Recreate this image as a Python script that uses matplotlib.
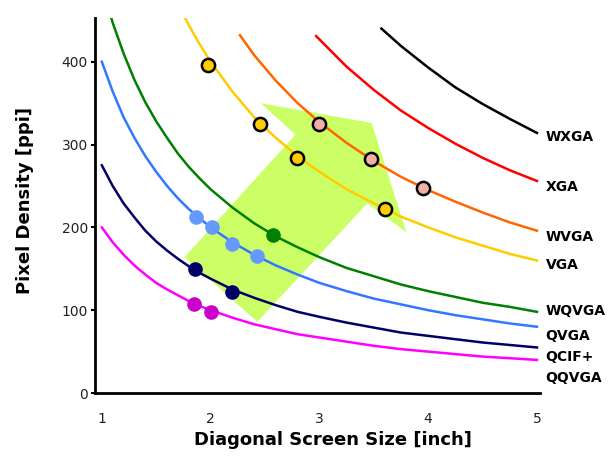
import matplotlib
matplotlib.use("Agg")
import matplotlib.pyplot as plt

sizes = [1.0, 1.1, 1.2, 1.3, 1.4, 1.5, 1.6, 1.7, 1.8, 1.9, 2.0, 2.2, 2.4, 2.6, 2.8,
         3.0, 3.25, 3.5, 3.75, 4.0, 4.25, 4.5, 4.75, 5.0]

wxga_x = [3.57, 3.75, 4.0, 4.25, 4.5, 4.75, 5.0]
wxga_y = [440, 419, 393, 369, 349, 331, 314]

xga_x = [2.97, 3.0, 3.25, 3.5, 3.75, 4.0, 4.25, 4.5, 4.75, 5.0]
xga_y = [431, 427, 394, 366, 341, 320, 301, 284, 269, 256]

wvga_x = [2.27, 2.4, 2.6, 2.8, 3.0, 3.25, 3.5, 3.75, 4.0, 4.25, 4.5, 4.75, 5.0]
wvga_y = [432, 408, 377, 350, 327, 302, 280, 261, 245, 231, 218, 206, 196]

vga_x = [1.75, 1.8, 1.9, 2.0, 2.2, 2.4, 2.6, 2.8, 3.0, 3.25, 3.5, 3.75, 4.0,
         4.25, 4.5, 4.75, 5.0]
vga_y = [457, 444, 421, 400, 364, 333, 308, 286, 267, 246, 229, 213, 200,
         188, 178, 168, 160]

wqvga_y = [492, 447, 410, 378, 351, 328, 308, 289, 273, 259, 246, 224, 205, 189, 176,
           164, 151, 141, 131, 123, 116, 109, 104, 98]
qvga_y = [400, 364, 333, 308, 286, 267, 250, 235, 222, 211, 200, 182, 167, 154, 143,
          133, 123, 114, 107, 100, 94, 89, 84, 80]
qcif_y = [275, 250, 229, 212, 196, 183, 172, 162, 153, 145, 138, 125, 115, 106, 98,
          92, 85, 79, 73, 69, 65, 61, 58, 55]
qqvga_y = [200, 182, 167, 154, 143, 133, 125, 118, 111, 105, 100, 91, 83, 77, 71,
           67, 62, 57, 53, 50, 47, 44, 42, 40]

# highlighted devices
vga_pts_x = [1.98, 2.45, 2.79, 3.60]
vga_pts_y = [396, 325, 284, 222]
wvga_pts_x = [3.0, 3.47, 3.95]
wvga_pts_y = [325, 283, 248]
wqvga_pts_x = [2.57]
wqvga_pts_y = [191]
qvga_pts_x = [1.87, 2.01, 2.20, 2.43]
qvga_pts_y = [213, 200, 180, 165]
qcif_pts_x = [1.86, 2.20]
qcif_pts_y = [150, 122]
qqvga_pts_x = [1.85, 2.0]
qqvga_pts_y = [107, 98]

# trend arrow outline
arrow_x = [2.46, 3.48, 3.80, 3.44, 2.43, 1.76, 2.78]
arrow_y = [350, 326, 194, 229, 86, 164, 312]

label_names = ["WXGA", "XGA", "WVGA", "VGA", "WQVGA", "QVGA", "QCIF+", "QQVGA"]
label_y = [309, 249, 188, 155, 99, 69, 44, 18]

fig = plt.figure(figsize=(6.16, 4.57), dpi=100)
ax = fig.add_axes([0.154, 0.140, 0.723, 0.821])

ax.fill(arrow_x, arrow_y, color="#ccff66", zorder=1, lw=0)

lw = 1.8
ax.plot(wxga_x, wxga_y, color="black", lw=lw, zorder=2)
ax.plot(xga_x, xga_y, color="#ff0000", lw=lw, zorder=2)
ax.plot(wvga_x, wvga_y, color="#ff6600", lw=lw, zorder=2)
ax.plot(vga_x, vga_y, color="#ffcc00", lw=lw, zorder=2)
ax.plot(sizes, wqvga_y, color="#008000", lw=lw, zorder=2)
ax.plot(sizes, qvga_y, color="#3377ff", lw=lw, zorder=2)
ax.plot(sizes, qcif_y, color="#000066", lw=lw, zorder=2)
ax.plot(sizes, qqvga_y, color="#ff00ff", lw=lw, zorder=2)

ms = 9.5
ax.plot(vga_pts_x, vga_pts_y, "o", ms=ms, mfc="#ffcc00", mec="black", mew=1.8, zorder=3)
ax.plot(wvga_pts_x, wvga_pts_y, "o", ms=ms, mfc="#f0b0a8", mec="black", mew=1.8, zorder=3)
ax.plot(wqvga_pts_x, wqvga_pts_y, "o", ms=ms, mfc="#008000", mec="#008000", zorder=3)
ax.plot(qvga_pts_x, qvga_pts_y, "o", ms=ms, mfc="#6699ff", mec="#6699ff", zorder=3)
ax.plot(qcif_pts_x, qcif_pts_y, "o", ms=ms, mfc="#000066", mec="#000066", zorder=3)
ax.plot(qqvga_pts_x, qqvga_pts_y, "o", ms=ms, mfc="#cc00cc", mec="#cc00cc", zorder=3)

for name, yy in zip(label_names, label_y):
    ax.text(5.08, yy, name, fontsize=10, fontweight="bold", va="center", ha="left",
            clip_on=False)

ax.set_xlim(0.936, 5.03)
ax.set_ylim(0, 453)
ax.set_xticks([1, 2, 3, 4, 5])
ax.set_yticks([0, 100, 200, 300, 400])
ax.tick_params(axis="x", length=0, pad=14, labelsize=10, labelcolor="#222222")
ax.tick_params(axis="y", length=3, width=1.5, pad=2, labelsize=10, labelcolor="#222222")

for side in ["top", "right"]:
    ax.spines[side].set_visible(False)
for side in ["left", "bottom"]:
    ax.spines[side].set_linewidth(2)

ax.set_xlabel("Diagonal Screen Size [inch]", fontsize=13, fontweight="bold", va="center")
ax.xaxis.set_label_coords(0.535, -0.125)
ax.set_ylabel("Pixel Density [ppi]", fontsize=13, fontweight="bold", va="center")
ax.yaxis.set_label_coords(-0.157, 0.512)

fig.savefig("out.png", dpi=100)
